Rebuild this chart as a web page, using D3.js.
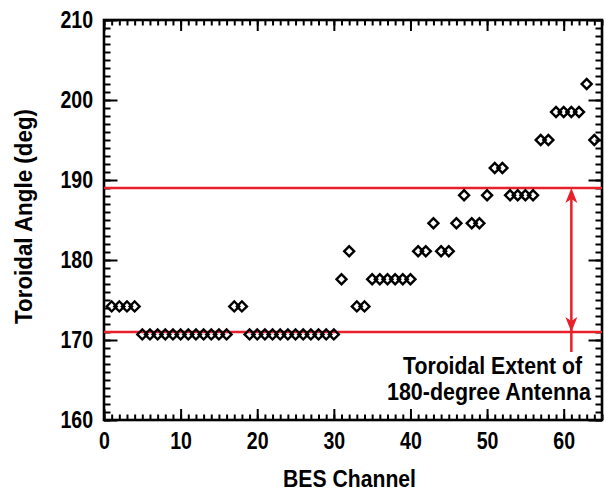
<!DOCTYPE html>
<html>
<head>
<meta charset="utf-8">
<script src="https://cdn.jsdelivr.net/npm/d3@7"></script>
<style>
  body { margin: 0; background: #fff; }
  text { font-family: "Liberation Sans Narrow", "Liberation Sans", Arial, sans-serif; font-weight: bold; fill: #000; }
</style>
</head>
<body>
<div id="chart"></div>
<script>
// BES channel toroidal angles
const channels = d3.range(1, 65);
const angles = [
    174.2, 174.2, 174.2, 174.2,
    170.7, 170.7, 170.7, 170.7, 170.7, 170.7, 170.7, 170.7, 170.7, 170.7, 170.7, 170.7,
    174.2, 174.2,
    170.7, 170.7, 170.7, 170.7, 170.7, 170.7, 170.7, 170.7, 170.7, 170.7, 170.7, 170.7,
    177.6, 181.1, 174.2, 174.2,
    177.6, 177.6, 177.6, 177.6, 177.6, 177.6,
    181.1, 181.1, 184.6, 181.1, 181.1, 184.6, 188.1, 184.6, 184.6, 188.1,
    191.5, 191.5, 188.1, 188.1, 188.1, 188.1,
    195.0, 195.0, 198.5, 198.5, 198.5, 198.5, 202.0, 195.0
];
const xTicks = [0, 10, 20, 30, 40, 50, 60];
const yTicks = [160, 170, 180, 190, 200, 210];
const antennaExtent = [171, 189];
const arrowChannel = 61;
const noteLines = ["Toroidal Extent of", "180-degree Antenna"];

const margin = { top: 20, right: 4, bottom: 76, left: 104 };
const width = 606 - margin.left - margin.right;
const height = 496 - margin.top - margin.bottom;
const red = "#e8202a";

const svg = d3.select("#chart")
    .append("svg")
    .attr("width", 606)
    .attr("height", 496)
    .append("g")
    .attr("transform", `translate(${margin.left},${margin.top})`);

const x = d3.scaleLinear().domain([0, 65]).range([0, width]);
const y = d3.scaleLinear().domain([160, 210]).range([height, 0]);

// squeeze Liberation Sans into a narrow face
function narrow(sel, k) {
    sel.each(function () {
        const w = this.getComputedTextLength();
        d3.select(this).attr("textLength", w * k).attr("lengthAdjust", "spacingAndGlyphs");
    });
}
function fitTo(sel, w) {
    sel.attr("textLength", w).attr("lengthAdjust", "spacingAndGlyphs");
}

// minor ticks, all four sides
const minorX = d3.range(0, 66);
const minorY = d3.range(160, 211);
const axes = [
    { ax: d3.axisBottom(x).tickValues(minorX).tickSize(-5.5), t: `translate(0,${height})` },
    { ax: d3.axisTop(x).tickValues(minorX).tickSize(-5.5), t: "translate(0,0)" },
    { ax: d3.axisLeft(y).tickValues(minorY).tickSize(-6.5), t: "translate(0,0)" },
    { ax: d3.axisRight(y).tickValues(minorY).tickSize(-6.5), t: `translate(${width},0)` },
    { ax: d3.axisTop(x).tickValues(xTicks).tickSize(-11), t: "translate(0,0)" },
    { ax: d3.axisRight(y).tickValues(yTicks).tickSize(-13.5), t: `translate(${width},0)` }
];
axes.forEach(a => {
    const g = svg.append("g").attr("transform", a.t).call(a.ax.tickFormat(""));
    g.select(".domain").remove();
    g.selectAll("line").attr("stroke", "#000").attr("stroke-width", 2);
});

// major ticks with labels
const xAxis = svg.append("g")
    .attr("transform", `translate(0,${height})`)
    .call(d3.axisBottom(x).tickValues(xTicks).tickSize(-11).tickPadding(13));
const yAxis = svg.append("g")
    .call(d3.axisLeft(y).tickValues(yTicks).tickSize(-13.5).tickPadding(11));
[xAxis, yAxis].forEach(g => {
    g.select(".domain").remove();
    g.selectAll("line").attr("stroke", "#000").attr("stroke-width", 2);
    g.selectAll("text").attr("font-size", 23).attr("font-family", null).call(narrow, 0.85);
});

svg.append("rect")
    .attr("width", width)
    .attr("height", height)
    .attr("fill", "none")
    .attr("stroke", "#000")
    .attr("stroke-width", 2.6);

// antenna extent lines
svg.selectAll(".extent")
    .data(antennaExtent)
    .enter()
    .append("line")
    .attr("class", "extent")
    .attr("x1", 0)
    .attr("x2", width)
    .attr("y1", d => y(d))
    .attr("y2", d => y(d))
    .attr("stroke", red)
    .attr("stroke-width", 2.5);

// double arrow
const ax = x(arrowChannel);
svg.append("line")
    .attr("x1", ax).attr("x2", ax)
    .attr("y1", y(antennaExtent[1]) + 4)
    .attr("y2", y(168.5))
    .attr("stroke", red)
    .attr("stroke-width", 2.5);
const head = d3.line();
[[antennaExtent[1], 1], [antennaExtent[0], -1]].forEach(([v, dir]) => {
    const ty = y(v);
    svg.append("path")
        .attr("d", head([[ax, ty], [ax - 6, ty + dir * 15], [ax, ty + dir * 11], [ax + 6, ty + dir * 15]]) + "Z")
        .attr("fill", red);
});

// note text
const noteX = [299, 283];
const noteW = [179, 204];
svg.append("g")
    .selectAll("text")
    .data(noteLines)
    .enter()
    .append("text")
    .attr("x", (d, i) => noteX[i])
    .attr("y", (d, i) => 354 + i * 26)
    .attr("font-size", 23)
    .attr("textLength", (d, i) => noteW[i])
    .attr("lengthAdjust", "spacingAndGlyphs")
    .text(d => d);

// data points: open diamonds
svg.selectAll(".pt")
    .data(channels)
    .enter()
    .append("path")
    .attr("class", "pt")
    .attr("d", d3.symbol(d3.symbolSquare, 50))
    .attr("transform", (d, i) => `translate(${x(d)},${y(angles[i])}) rotate(45)`)
    .attr("fill", "none")
    .attr("stroke", "#000")
    .attr("stroke-width", 2.4);

// axis titles
svg.append("text")
    .attr("x", 179)
    .attr("y", height + 67)
    .attr("font-size", 24)
    .call(fitTo, 133)
    .text("BES Channel");

svg.append("text")
    .attr("transform", `translate(${-72},${304}) rotate(-90)`)
    .attr("font-size", 23)
    .call(fitTo, 215)
    .text("Toroidal Angle (deg)");
</script>
</body>
</html>
